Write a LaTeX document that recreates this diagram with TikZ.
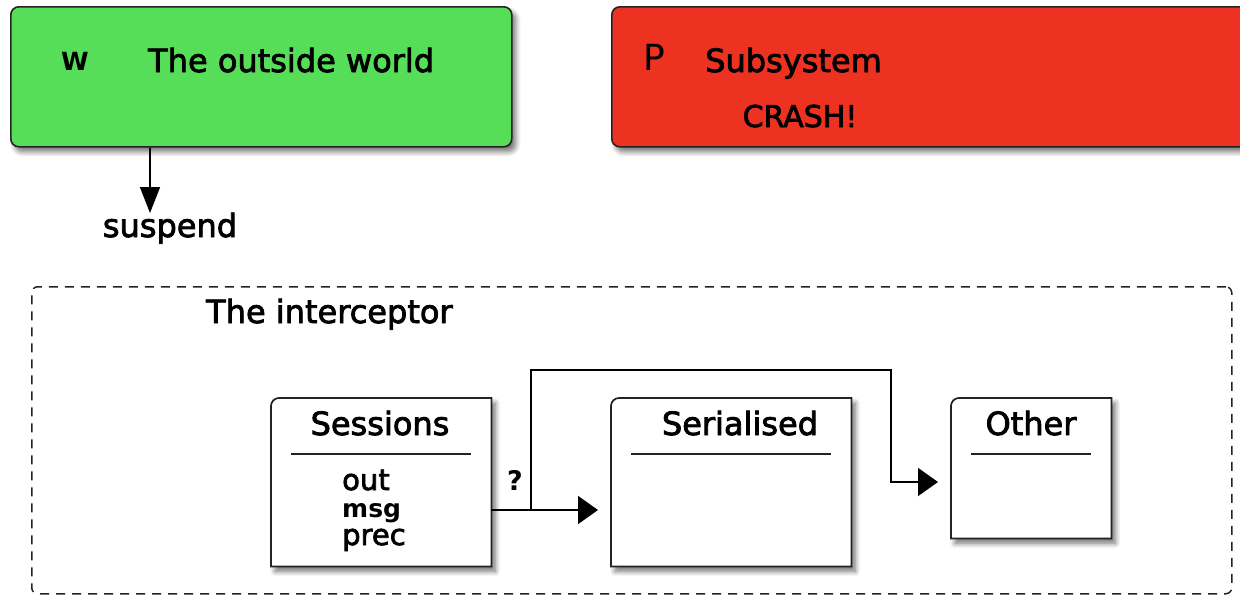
\documentclass[tikz,border=0pt]{standalone}
\usepackage{fontspec}
\setmainfont{DejaVu Sans}
\newfontfamily\heavy{DejaVu Sans}[FakeBold=2.5]
\usetikzlibrary{arrows.meta,shadows.blur}

\definecolor{worldgreen}{RGB}{86,222,88}
\definecolor{crashred}{RGB}{238,50,34}
\definecolor{edge}{RGB}{35,35,35}

\newcommand\fs[1]{\fontsize{#1}{#1}\selectfont}

\begin{document}
\begin{tikzpicture}[x=1pt,y=-1pt,
  softshadow/.style={blur shadow={shadow xshift=4pt,shadow yshift=-5pt,
      shadow blur radius=5pt,shadow blur steps=8,shadow opacity=55}},
  bigbox/.style={draw=edge,line width=1.6pt,rounded corners=8pt,softshadow,
      anchor=north west,inner sep=0pt},
  classbox/.style={anchor=north west,inner sep=0pt},
  classframe/.style={draw=edge,line width=1.7pt,fill=white,softshadow},
  group/.style={draw=edge,line width=1.5pt,dash pattern=on 9pt off 7pt,
      rounded corners=6pt,anchor=north west,inner sep=0pt},
  lbl/.style={inner sep=0pt,anchor=base,font=\heavy\fs{32}},
  link/.style={draw=black,line width=1.6pt},
  hhead/.style={-{Triangle[length=20pt,width=28pt]}},
  vhead/.style={-{Triangle[length=26pt,width=20pt]}},
]
\clip (0,0) rectangle (1240,595);
\useasboundingbox (0,0) rectangle (1240,595);

% top row: the world and the crashing subsystem
\node[bigbox,fill=worldgreen,minimum width=501pt,minimum height=140pt] (world) at (10,6) {};
\node[lbl,font=\fs{25}\bfseries] (wkey) at (75,70) {W};
\node[lbl,anchor=base west] (wtitle) at (148,72) {The outside world};

\node[bigbox,fill=crashred,minimum width=660pt,minimum height=140pt] (subsys) at (611,6) {};
\node[lbl,font=\fs{36}] (pkey) at (654,70) {P};
\node[lbl,anchor=base west] (ptitle) at (705,72) {Subsystem};
\node[lbl,font=\heavy\fs{30}] (crash) at (800,127) {CRASH!};

% suspend signal
\coordinate (suspendTip) at (150,213);
\draw[link,vhead] (world.south -| suspendTip) -- (suspendTip);
\node[lbl] (suspend) at (170,237) {suspend};

% interceptor group
\node[group,minimum width=1200pt,minimum height=307pt] (interceptor) at (31,286) {};
\node[lbl,anchor=base west] (ititle) at (206,323) {The interceptor};

% class boxes
\node[classbox,minimum width=220pt,minimum height=168pt] (sessions) at (271,398) {};
\node[classbox,minimum width=240pt,minimum height=168pt] (serialised) at (611,398) {};
\node[classbox,minimum width=160pt,minimum height=140pt] (other) at (951,398) {};
\foreach \n in {sessions,serialised,other}{
  \draw[classframe] (\n.south west) -- ([yshift=-8pt]\n.north west)
     arc[start angle=180,end angle=90,radius=8pt] -- (\n.north east)
     -- (\n.south east) -- cycle;
  \draw[edge,line width=1.5pt] ([xshift=20pt,yshift=-56pt]\n.north west)
     -- ([xshift=-20pt,yshift=-56pt]\n.north east);
}
\node[lbl] (sesstitle) at (380,435) {Sessions};
\node[lbl] (sertitle) at (740,435) {Serialised};
\node[lbl] (othtitle) at (1031,435) {Other};

\node[lbl,anchor=base west,font=\heavy\fs{29}] (fout) at (342,490) {out};
\node[lbl,anchor=base west,font=\fs{25}\bfseries] (fmsg) at (342,517) {msg};
\node[lbl,anchor=base west,font=\heavy\fs{29}] (fprec) at (342,545) {prec};

% dispatch from the sessions
\coordinate (fork) at (531,510);
\coordinate (bend) at (891,370);
\coordinate (otherIn) at (951,482);
\draw[link,hhead,shorten >=13pt] (fork -| sessions.east) -- (fork -| serialised.west);
\draw[link,hhead,shorten >=13pt] (fork) |- (bend) |- (otherIn);
\node[lbl,font=\fs{27}\bfseries] (query) at (515,490) {?};
\end{tikzpicture}
\end{document}
